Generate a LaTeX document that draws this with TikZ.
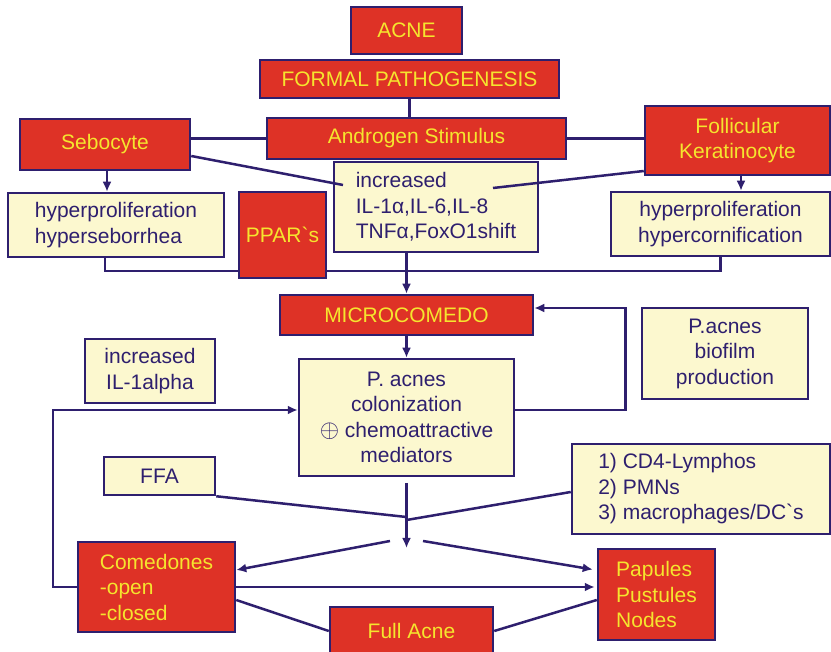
\documentclass[tikz,border=0pt]{standalone}
\usepackage{fontspec}
\setmainfont{Liberation Sans}
\usetikzlibrary{arrows.meta}
\definecolor{boxred}{HTML}{DE3226}
\definecolor{txtyel}{HTML}{F5E52E}
\definecolor{pale}{HTML}{FCF8CF}
\definecolor{navy}{HTML}{2E1F6E}
\begin{document}
\begin{tikzpicture}[x=1pt,y=-1pt,
 base/.style={draw=navy, line width=2.5pt, inner sep=0pt, font=\fontsize{21}{25.5}\selectfont, align=center},
 redbox/.style={base, fill=boxred, text=txtyel},
 palebox/.style={base, fill=pale, text=navy},
 conn/.style={draw=navy, line width=2.5pt},
 arr/.style={conn, -{Latex[length=10pt,width=9pt]}}
]
\fill[white] (0,0) rectangle (831,652);
\useasboundingbox (0,0) rectangle (831,652);

\node[redbox, minimum width=111pt, minimum height=47pt] (acne) at (406.5,30.5) {ACNE};
\node[redbox, minimum width=299pt, minimum height=38pt] (formal) at (409.5,79) {FORMAL PATHOGENESIS};
\node[redbox, minimum width=299pt, minimum height=41pt] (andro) at (416.5,138.5) {Androgen Stimulus};
\node[redbox, minimum width=170pt, minimum height=51pt] (sebo) at (105,144.5) {Sebocyte};
\node[redbox, minimum width=185pt, minimum height=69pt] (folli) at (737.5,140.5) {Follicular\\Keratinocyte};
\node[palebox, minimum width=216pt, minimum height=64pt, align=left] (hypers) at (116,225) {hyperproliferation\\hyperseborrhea};
\node[redbox, minimum width=87pt, minimum height=86pt] (ppar) at (282.5,235) {PPAR\textasciigrave s};
\node[palebox, minimum width=204pt, minimum height=90pt, align=left] (incr) at (436,207) {increased\\IL-1α,IL-6,IL-8\\TNFα,FoxO1shift};
\node[palebox, minimum width=219pt, minimum height=64pt] (hyperc) at (720.5,224) {hyperproliferation\\hypercornification};
\node[redbox, minimum width=253pt, minimum height=40pt] (micro) at (406.5,315) {MICROCOMEDO};
\node[palebox, minimum width=215pt, minimum height=117pt] (pac) at (406.5,417.5) {P. acnes\\colonization\\{\fontsize{27}{25.5}\selectfont$\oplus$} chemoattractive\\mediators};
\node[palebox, minimum width=166pt, minimum height=91pt] (bio) at (725,353.5) {P.acnes\\biofilm\\production};
\node[palebox, minimum width=130pt, minimum height=64pt] (il1) at (150,371) {increased\\IL-1alpha};
\node[palebox, minimum width=111pt, minimum height=38pt] (ffa) at (159.5,476) {FFA};
\node[palebox, minimum width=258pt, minimum height=90pt, align=left] (cd4) at (701,489) {1) CD4-Lymphos\\2) PMNs\\3) macrophages/DC\textasciigrave s};
\node[redbox, minimum width=157pt, minimum height=90pt, align=left] (com) at (156.5,587) {Comedones\\-open\\-closed};
\node[redbox, minimum width=117pt, minimum height=91pt, align=left] (pap) at (656.5,594.5) {Papules\\Pustules\\Nodes};
\node[redbox, minimum width=163pt, minimum height=48pt] (full) at (411.5,631) {Full Acne};

\coordinate (c1) at (343,185);
\coordinate (c2) at (493,188);
\coordinate (j0) at (406.5,483);
\coordinate (j1) at (406.5,548);
\coordinate (jf) at (406.5,517);
\coordinate (jc) at (406.5,520);
\coordinate (s1) at (390,541);
\coordinate (s2) at (423,541);
\coordinate (fb) at (53,587);

\draw[conn] (formal.south) -- (formal.south |- andro.north);
\draw[conn] (andro.west -| sebo.east) -- (andro.west);
\draw[conn] (andro.east) -- (andro.east -| folli.west);
\draw[arr] ([xshift=2pt]sebo.south) -- ([xshift=2pt]sebo.south |- hypers.north);
\draw[arr] ([xshift=3.5pt]folli.south) -- ([xshift=3.5pt]folli.south |- hyperc.north);
\draw[conn] ([yshift=-11.5pt]sebo.east) -- (c1);
\draw[conn] ([yshift=-30.5pt]folli.west) -- (c2);
\draw[conn] ([xshift=-11pt]hypers.south) |- ([yshift=-36pt]ppar.west);
\draw[conn] ([yshift=-36pt]ppar.east) -| (hyperc.south);
\draw[arr] (incr.south -| micro.north) -- (micro.north);
\draw[arr] (micro.south) -- (pac.north);
\draw[arr] ([yshift=7.5pt]pac.east) -- ++(110,0) |- ([yshift=7pt]micro.east);
\draw[arr] (com.west) -- (fb) |- ([yshift=7.5pt]pac.west);
\draw[arr] (j0) -- (j1);
\draw[conn] (ffa.south east) -- (jf);
\draw[conn] ([yshift=-3pt]cd4.west) -- (jc);
\draw[arr] (s1) -- ([yshift=17pt]com.east);
\draw[arr] (s2) -- ([xshift=-4pt,yshift=25pt]pap.west);
\draw[arr] (com.east) -- ([xshift=-2pt]com.east -| pap.west);
\draw[conn] ([yshift=-13pt]com.east) -- (full.west);
\draw[conn] (full.east) -- ([yshift=-5.5pt]pap.west);
\end{tikzpicture}
\end{document}
